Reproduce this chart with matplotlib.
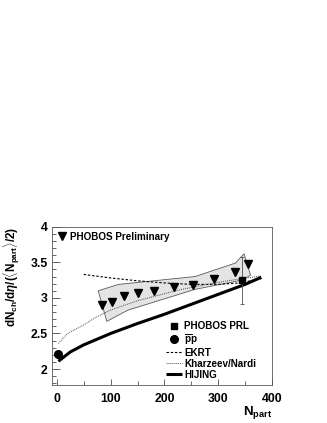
import matplotlib
matplotlib.use("Agg")
import matplotlib.pyplot as plt
from matplotlib.ticker import MultipleLocator

plt.rcParams['font.family'] = ['Liberation Sans', 'DejaVu Sans']
plt.rcParams['font.weight'] = 'bold'
plt.rcParams['mathtext.fontset'] = 'custom'
plt.rcParams['mathtext.rm'] = 'Liberation Sans:bold'
plt.rcParams['mathtext.bf'] = 'Liberation Sans:bold'
plt.rcParams['mathtext.it'] = 'Liberation Sans:bold:italic'
plt.rcParams['mathtext.sf'] = 'Liberation Sans:bold'

# PHOBOS preliminary points
prel_npart = [84, 102, 124, 151, 180, 217, 253, 293, 331, 355]
prel_val = [2.90, 2.94, 3.03, 3.07, 3.10, 3.15, 3.18, 3.26, 3.36, 3.48]

# systematic band (polygon: upper edge then lower edge back)
band_up_x = [77, 115, 257, 332, 348, 360]
band_up_y = [3.10, 3.19, 3.30, 3.49, 3.62, 3.32]
band_lo_x = [360, 344, 257, 133, 115, 93]
band_lo_y = [3.32, 3.25, 3.12, 2.83, 2.76, 2.67]

# PHOBOS PRL
prl_npart = [344]
prl_val = [3.245]
prl_err = [0.33]

# pp
pp_npart = [2]
pp_val = [2.21]

# EKRT
ekrt_x = [50, 100, 150, 200, 250, 300, 340, 380]
ekrt_y = [3.33, 3.28, 3.24, 3.21, 3.19, 3.19, 3.21, 3.27]

# Kharzeev/Nardi
kn_x = [3, 20, 50, 71, 100, 150, 226, 300, 380]
kn_y = [2.36, 2.50, 2.62, 2.72, 2.83, 2.96, 3.11, 3.22, 3.31]

# HIJING
hij_x = [3, 25, 50, 100, 150, 200, 250, 300, 350, 380]
hij_y = [2.11, 2.24, 2.34, 2.50, 2.64, 2.77, 2.91, 3.05, 3.19, 3.29]

fig = plt.figure(figsize=(3.27, 4.23), dpi=100)
ax = fig.add_axes([0.158, 0.0905, 0.674, 0.3735])

ax.fill(band_up_x + band_lo_x, band_up_y + band_lo_y, facecolor='#e4e4e4',
        edgecolor='0.35', linewidth=0.6, zorder=1)

l_ekrt, = ax.plot(ekrt_x, ekrt_y, color='black', lw=0.8, ls=(0, (2.2, 1.6)), zorder=3)
l_kn, = ax.plot(kn_x, kn_y, color='0.3', lw=0.7, ls=(0, (1, 1)), zorder=3)
l_hij, = ax.plot(hij_x, hij_y, color='black', lw=2.2, zorder=3, solid_capstyle='butt')

l_prel, = ax.plot(prel_npart, prel_val, 'v', color='black', ms=5.2, ls='none', zorder=4)
ax.errorbar(prl_npart, prl_val, yerr=prl_err, fmt='none', ecolor='0.3', elinewidth=0.6,
            capsize=1.5, capthick=0.6, zorder=4)
l_prl, = ax.plot(prl_npart, prl_val, 's', color='black', ms=5, ls='none', zorder=5)
l_pp, = ax.plot(pp_npart, pp_val, 'o', color='black', ms=5.5, ls='none', zorder=5)

ax.set_xlim(-9.5, 400)
ax.set_ylim(1.78, 4.0)

ax.xaxis.set_major_locator(MultipleLocator(100))
ax.xaxis.set_minor_locator(MultipleLocator(50))
ax.yaxis.set_major_locator(MultipleLocator(0.5))
ax.yaxis.set_minor_locator(MultipleLocator(0.1))
ax.tick_params(which='both', direction='in', top=False, right=False, width=0.6, color='0.3')
ax.tick_params(axis='y', which='major', length=6, pad=3, labelsize=8.8)
ax.tick_params(axis='y', which='minor', length=3)
ax.tick_params(axis='x', which='major', length=4, pad=6, labelsize=8.8)
ax.tick_params(axis='x', which='minor', length=3)
ax.yaxis.set_major_formatter(plt.FuncFormatter(lambda v, p: ('%g' % v)))
for s in ax.spines.values():
    s.set_linewidth(0.6)
    s.set_color('0.35')

ax.set_xlabel(r'$\mathbf{N_{part}}$', fontsize=9.5, loc='right', labelpad=-1)
ax.set_ylabel(r'$\mathbf{dN_{ch}/d}\eta\mathbf{/(\langle N_{part}\rangle/2)}$',
              fontsize=8.4, loc='top', labelpad=6)

leg1 = ax.legend([l_prel], ['PHOBOS Preliminary'], loc='upper left',
                 bbox_to_anchor=(0.0, 1.0), frameon=False, fontsize=7.1,
                 handlelength=1.0, handletextpad=0.4, borderaxespad=0.2, borderpad=0.3)
ax.add_artist(leg1)
ax.legend([l_prl, l_pp, l_ekrt, l_kn, l_hij],
          ['PHOBOS PRL', r'$\overline{\mathrm{p}}\mathrm{p}$', 'EKRT', 'Kharzeev/Nardi', 'HIJING'],
          loc='lower left', bbox_to_anchor=(0.497, 0.0), frameon=False, fontsize=7.1,
          handlelength=1.6, handletextpad=0.25, labelspacing=0.1, borderaxespad=0.1)

fig.savefig('out.png', dpi=100)
